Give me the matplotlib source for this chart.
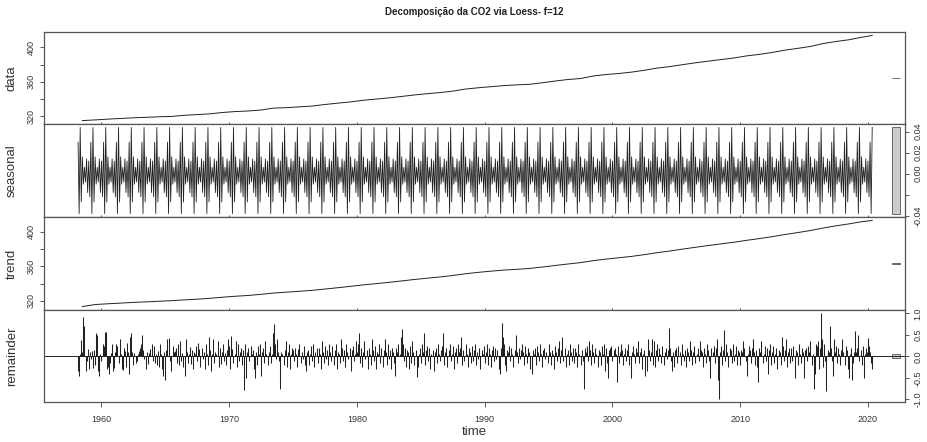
import numpy as np
import matplotlib
matplotlib.use('Agg')
import matplotlib.pyplot as plt

plt.rcParams['font.family'] = ['Liberation Sans', 'DejaVu Sans']

# annual values (one per year 1958..2020)
years = list(range(1958, 2021))
co2_annual = [315.2, 315.98, 316.91, 317.64, 318.45, 318.99, 319.62, 320.04, 321.38, 322.16,
              323.04, 324.62, 325.68, 326.32, 327.46, 329.68, 330.19, 331.13, 332.03, 333.84,
              335.41, 336.84, 338.76, 340.12, 341.48, 343.15, 344.87, 346.35, 347.61, 349.31,
              351.69, 353.20, 354.45, 355.70, 356.54, 357.21, 358.96, 360.97, 362.74, 363.88,
              366.84, 368.54, 369.71, 371.32, 373.45, 375.98, 377.70, 379.98, 382.09, 384.02,
              385.83, 387.64, 390.10, 391.85, 394.06, 396.74, 398.81, 401.01, 404.41, 406.76,
              408.72, 411.66, 413.8]
trend_annual = [313.6, 315.9, 316.8, 317.6, 318.4, 319.0, 319.7, 320.4, 321.3, 322.1,
                323.1, 324.4, 325.5, 326.4, 327.7, 329.2, 330.2, 331.2, 332.3, 333.8,
                335.3, 336.9, 338.6, 340.0, 341.5, 343.1, 344.8, 346.3, 347.7, 349.4,
                351.4, 353.0, 354.4, 355.6, 356.5, 357.5, 359.1, 360.9, 362.6, 364.2,
                366.5, 368.3, 369.8, 371.4, 373.4, 375.7, 377.6, 379.8, 381.9, 383.9,
                385.8, 387.7, 389.9, 391.9, 394.1, 396.6, 398.8, 401.2, 404.1, 406.6,
                408.8, 411.3, 412.8]

# seasonal component, Jan..Dec
seasonal_months = [0.012, -0.022, 0.030, -0.038, 0.044, -0.027,
                   0.016, -0.010, 0.006, -0.008, 0.014, -0.018]

# remainder, one row per year (1958 starts in March, 2020 ends in May)
first_month = 3
remainder_by_year = [
    [-0.35, -0.45, 0.05, 0.38, 0.10, 0.92, 0.70, -0.35, -0.10, 0.18],
    [-0.30, 0.10, -0.05, 0.12, -0.28, 0.15, -0.20, 0.55, 0.50, -0.35, -0.45, 0.05],
    [-0.10, 0.30, 0.25, 0.56, 0.57, -0.30, -0.25, -0.40, -0.15, 0.08, 0.28, -0.35],
    [-0.28, 0.10, 0.28, 0.25, -0.15, 0.40, 0.05, -0.30, -0.32, 0.20, 0.12, -0.25],
    [0.32, 0.10, -0.40, 0.45, 0.55, 0.10, -0.20, 0.08, -0.15, -0.10, 0.05, 0.12],
    [0.20, 0.30, 0.50, 0.15, -0.05, 0.02, -0.30, 0.10, -0.18, 0.08, 0.18, 0.30],
    [-0.10, 0.25, -0.15, 0.05, -0.20, 0.12, -0.25, 0.30, 0.05, -0.30, -0.45, 0.10],
    [-0.55, 0.15, 0.40, 0.42, -0.10, -0.35, 0.00, 0.25, 0.10, 0.12, 0.20, -0.15],
    [0.28, -0.20, 0.35, -0.10, 0.08, -0.25, -0.45, 0.40, 0.10, -0.15, 0.05, 0.22],
    [-0.18, 0.15, -0.30, 0.10, 0.05, 0.25, -0.10, 0.32, 0.18, -0.25, 0.20, -0.05],
    [0.10, -0.30, 0.30, 0.05, -0.20, 0.45, 0.15, -0.35, 0.05, 0.40, -0.15, 0.10],
    [0.05, 0.35, -0.25, 0.20, -0.18, 0.10, 0.30, -0.10, 0.08, -0.20, 0.15, 0.40],
    [0.25, -0.30, 0.47, 0.18, -0.15, 0.05, 0.35, -0.25, 0.30, -0.10, 0.10, 0.20],
    [-0.20, 0.15, -0.78, 0.30, -0.50, 0.10, 0.20, -0.10, 0.25, 0.05, 0.15, -0.30],
    [-0.50, 0.10, -0.20, 0.25, 0.05, 0.30, -0.45, 0.10, 0.20, -0.15, 0.35, 0.05],
    [-0.20, 0.10, 0.25, -0.15, 0.05, 0.55, 0.75, 0.30, -0.05, 0.40, 0.10, -0.10],
    [-0.75, 0.10, 0.05, -0.20, 0.15, 0.35, -0.25, 0.10, 0.28, -0.30, 0.05, 0.20],
    [0.15, -0.10, 0.20, 0.05, -0.25, 0.18, 0.30, -0.15, 0.10, -0.05, 0.25, -0.20],
    [-0.35, 0.10, 0.15, -0.20, 0.05, 0.25, -0.10, 0.30, -0.25, 0.10, 0.20, -0.15],
    [0.20, 0.05, -0.30, 0.35, 0.10, -0.15, 0.25, -0.05, 0.15, -0.20, 0.30, 0.10],
    [-0.10, 0.25, -0.20, 0.15, 0.30, -0.30, 0.10, 0.05, -0.15, 0.40, 0.20, -0.10],
    [0.15, -0.25, 0.30, 0.10, -0.05, 0.20, -0.35, 0.15, 0.25, -0.10, 0.05, 0.35],
    [0.10, 0.30, 0.55, -0.15, 0.20, -0.25, 0.10, 0.35, -0.05, 0.15, -0.30, 0.20],
    [0.05, -0.20, 0.40, 0.15, -0.10, 0.25, -0.30, 0.10, 0.05, 0.30, -0.15, 0.20],
    [-0.25, 0.15, 0.40, 0.10, -0.20, 0.30, -0.05, 0.15, -0.30, 0.20, 0.10, -0.15],
    [-0.45, 0.20, 0.10, 0.30, 0.05, 0.45, 0.64, 0.30, -0.10, 0.20, -0.25, 0.15],
    [0.10, -0.30, 0.25, -0.15, 0.35, 0.10, -0.20, 0.15, -0.47, -0.25, 0.05, 0.20],
    [-0.15, 0.30, 0.10, 0.55, -0.20, 0.15, 0.25, -0.10, 0.20, -0.30, 0.05, 0.15],
    [-0.35, 0.10, 0.20, -0.15, 0.30, 0.05, -0.10, 0.15, 0.25, 0.55, -0.20, 0.10],
    [0.20, -0.25, 0.15, 0.30, -0.10, 0.05, 0.25, -0.30, 0.10, 0.20, -0.15, 0.30],
    [0.10, 0.20, 0.45, -0.20, 0.15, -0.10, 0.30, 0.05, -0.25, 0.20, 0.10, -0.15],
    [0.25, -0.10, 0.15, 0.30, -0.20, 0.10, -0.05, 0.20, -0.30, 0.15, 0.05, 0.25],
    [-0.15, 0.10, 0.30, -0.20, 0.20, 0.05, -0.25, 0.15, 0.25, -0.10, 0.20, -0.05],
    [0.15, -0.30, -0.40, 0.20, 0.78, 0.45, 0.30, -0.20, -0.35, 0.15, 0.10, 0.25],
    [-0.10, 0.20, 0.05, -0.25, 0.15, 0.50, 0.10, -0.15, 0.20, -0.05, 0.15, 0.30],
    [0.10, -0.20, 0.25, 0.05, -0.15, 0.20, 0.10, -0.30, -0.40, 0.15, 0.05, 0.20],
    [-0.20, 0.25, 0.10, -0.10, 0.30, 0.05, -0.25, 0.15, 0.20, -0.05, 0.10, -0.15],
    [0.30, 0.10, -0.20, 0.15, 0.05, -0.30, 0.25, 0.10, -0.10, 0.20, 0.35, -0.15],
    [0.15, 0.45, -0.10, 0.20, -0.25, 0.05, 0.15, -0.20, 0.30, 0.10, -0.10, 0.20],
    [-0.15, 0.20, 0.10, -0.25, 0.30, 0.05, -0.20, 0.15, -0.10, -0.75, 0.20, 0.10],
    [0.25, -0.10, 0.35, 0.15, -0.20, 0.30, 0.10, -0.15, 0.20, 0.05, -0.25, 0.15],
    [0.10, -0.20, 0.25, 0.05, 0.30, -0.35, 0.20, -0.15, -0.50, 0.15, 0.20, 0.25],
    [-0.10, 0.15, 0.20, 0.05, -0.60, 0.25, -0.15, 0.10, 0.30, 0.15, -0.20, 0.05],
    [0.20, -0.10, 0.15, 0.30, -0.20, -0.50, 0.10, 0.25, 0.05, -0.15, 0.20, 0.10],
    [0.35, -0.15, 0.10, 0.20, -0.30, 0.05, 0.15, -0.45, -0.35, 0.40, 0.15, -0.10],
    [0.10, 0.40, -0.20, 0.35, -0.25, 0.15, 0.30, -0.10, 0.20, 0.05, -0.15, 0.25],
    [-0.20, 0.10, 0.20, -0.05, 0.15, 0.67, 0.20, -0.10, -0.35, 0.10, -0.25, 0.15],
    [0.20, -0.15, 0.25, 0.10, -0.20, 0.30, 0.05, -0.10, 0.15, -0.25, 0.20, 0.10],
    [-0.10, 0.35, 0.15, -0.20, 0.10, 0.25, -0.15, 0.05, 0.20, -0.10, 0.35, 0.15],
    [0.10, -0.25, 0.20, 0.05, -0.15, 0.30, 0.15, -0.10, -0.50, 0.20, 0.10, 0.25],
    [-0.15, 0.20, 0.40, -0.55, -0.98, 0.10, 0.25, -0.20, 0.15, 0.62, -0.10, 0.30],
    [0.10, -0.25, 0.20, 0.15, -0.15, 0.30, -0.10, 0.05, 0.25, -0.20, 0.15, 0.10],
    [-0.20, 0.15, 0.10, 0.35, 0.20, -0.10, -0.45, 0.05, 0.25, 0.15, -0.15, 0.20],
    [0.40, 0.10, -0.20, 0.15, -0.25, -0.60, 0.20, 0.10, 0.35, -0.15, 0.05, 0.25],
    [-0.10, 0.20, -0.40, 0.15, 0.30, -0.20, 0.10, 0.25, -0.15, 0.05, 0.20, -0.30],
    [0.15, 0.10, -0.20, 0.45, 0.25, -0.10, 0.15, 0.40, -0.25, 0.10, 0.20, -0.15],
    [0.20, -0.10, 0.25, -0.50, 0.15, 0.10, -0.20, 0.30, 0.05, -0.15, 0.20, 0.10],
    [-0.50, 0.15, 0.20, -0.10, 0.25, 0.10, 0.35, -0.20, 0.05, -0.75, -0.40, 0.30],
    [0.25, 0.35, -0.30, 0.20, 1.00, 0.40, -0.25, 0.30, -0.10, -0.80, 0.15, 0.10],
    [0.70, 0.20, -0.10, -0.45, 0.40, 0.10, 0.25, -0.15, 0.20, 0.05, -0.20, 0.15],
    [0.40, 0.10, -0.20, 0.25, 0.15, -0.30, -0.50, 0.05, 0.20, -0.55, -0.15, 0.10],
    [0.60, 0.10, 0.20, 0.50, -0.10, 0.15, -0.20, 0.25, -0.50, 0.05, 0.20, 0.10],
    [0.42, 0.25, 0.10, -0.15, -0.30],
]

# monthly time axis
t, seasonal, remainder = [], [], []
for year, row in zip(years, remainder_by_year):
    start = first_month if year == years[0] else 1
    for k, r in enumerate(row):
        m = start + k
        t.append(year + (m - 1) / 12)
        seasonal.append(seasonal_months[m - 1])
        remainder.append(r)
t = np.array(t)
seasonal = np.array(seasonal)
remainder = np.array(remainder)
t_year = np.clip(np.array(years) + 0.5, t[0], t[-1])

W, H = 928, 442
fig = plt.figure(figsize=(W / 100, H / 100), dpi=100)
left, right = 44 / W, 905 / W
tops = [32, 124, 217, 310, 402]
axes = []
for i in range(4):
    ax = fig.add_axes([left, 1 - tops[i + 1] / H, right - left, (tops[i + 1] - tops[i]) / H])
    axes.append(ax)

ax_d, ax_s, ax_t, ax_r = axes
ink = '#222222'
ax_d.plot(t_year, co2_annual, color=ink, lw=0.7)
ax_s.plot(t, seasonal, color=ink, lw=0.6)
ax_t.plot(t_year, trend_annual, color=ink, lw=0.7)
ax_r.vlines(t, 0, remainder, color=ink, lw=0.75)
ax_r.axhline(0, color=ink, lw=0.7)

xlim = (1955.5, 2022.9)
series = [co2_annual, seasonal, trend_annual, remainder]
ranges = [np.ptp(s) for s in series]
bar_h = min(ranges)
dx = (xlim[1] - xlim[0]) / 64

for ax, s in zip(axes, series):
    lo, hi = np.min(s), np.max(s)
    pad = 0.04 * (hi - lo)
    ax.set_ylim(lo - pad, hi + pad)
    ax.set_xlim(*xlim)
    mid = (lo + hi) / 2
    ax.add_patch(plt.Rectangle((xlim[1] - dx, mid - bar_h / 2), 0.6 * dx, bar_h,
                               facecolor='#cccccc', edgecolor='#555555', lw=0.6,
                               clip_on=False))
    for sp in ax.spines.values():
        sp.set_color('#555555')
        sp.set_linewidth(0.9)
    ax.set_xticks(range(1960, 2021, 10))
    ax.tick_params(axis='y', length=3, width=0.7, color='#555555', labelsize=6.5,
                   labelcolor='#333333', pad=3)
    if ax is not ax_r:
        ax.tick_params(axis='x', direction='inout', length=2.5, width=0.7,
                       color='#555555', labelbottom=False)
    else:
        ax.tick_params(axis='x', length=3.5, width=0.7, color='#555555',
                       labelsize=6.5, labelcolor='#333333', pad=6)

level_ticks = [320, 340, 360, 380, 400]
level_labels = ['320', '', '360', '', '400']
seas_ticks = [-0.04, -0.02, 0.0, 0.02, 0.04]
seas_labels = ['-0.04', '', '0.00', '0.02', '0.04']
rem_ticks = [-1.0, -0.5, 0.0, 0.5, 1.0]
rem_labels = ['-1.0', '-0.5', '0.0', '0.5', '1.0']

for ax in (ax_d, ax_t):
    ax.set_yticks(level_ticks)
    ax.set_yticklabels(level_labels, rotation=90, va='center')
ax_s.set_yticks(seas_ticks)
ax_s.set_yticklabels(seas_labels, rotation=90, va='center')
ax_r.set_yticks(rem_ticks)
ax_r.set_yticklabels(rem_labels, rotation=90, va='center')
for ax in (ax_s, ax_r):
    ax.yaxis.tick_right()
    ax.tick_params(axis='y', pad=3)

names = ['data', 'seasonal', 'trend', 'remainder']
for i, name in enumerate(names):
    yc = 1 - (tops[i] + tops[i + 1]) / 2 / H
    fig.text(12 / W, yc, name, rotation=90, ha='center', va='center',
             fontsize=9.5, color='#333333')

fig.text((44 + 905) / 2 / W, 1 - 432 / H, 'time', ha='center', va='center',
         fontsize=9.5, color='#333333')
fig.text((44 + 905) / 2 / W, 1 - 12 / H, 'Decomposição da CO2 via Loess- f=12',
         ha='center', va='center', fontsize=7, fontweight='bold', color='#222222')

fig.savefig('out.png', dpi=100)
